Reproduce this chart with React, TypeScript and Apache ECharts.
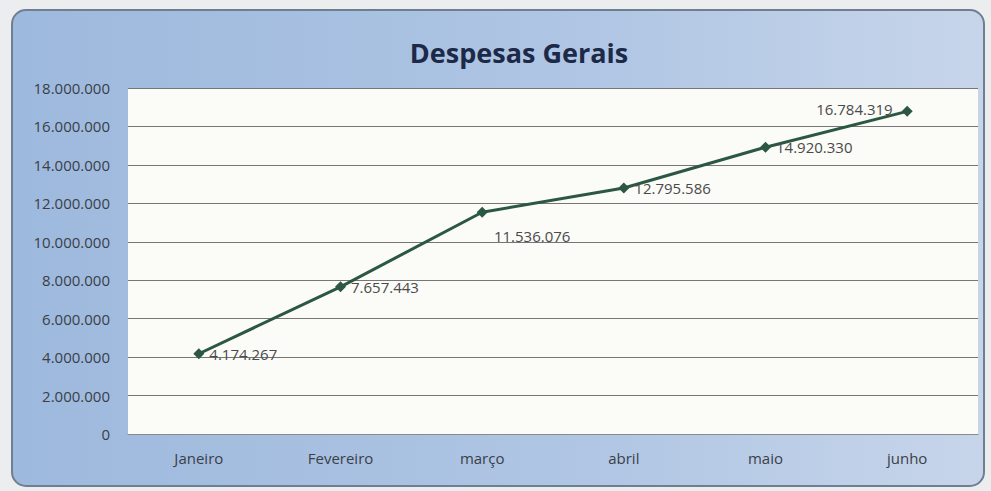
import React, { useEffect, useRef } from "react";
import * as echarts from "echarts";

const categories = ["Janeiro", "Fevereiro", "março", "abril", "maio", "junho"];
const values = [4174267, 7657443, 11536076, 12795586, 14920330, 16784319];
const yTicks = [0, 2000000, 4000000, 6000000, 8000000, 10000000, 12000000, 14000000, 16000000, 18000000];
const labelPositions = ["right", "right", "bottom", "right", "right", "left"];
const title = "Despesas Gerais";

const fmt = (v: number) => v.toString().replace(/\B(?=(\d{3})+(?!\d))/g, ".");

export default function App() {
  const ref = useRef<HTMLDivElement>(null);
  useEffect(() => {
    if (!ref.current) return;
    const chart = echarts.init(ref.current, undefined, { renderer: "svg" });
    const font = "'Open Sans', 'Noto Sans', sans-serif";
    chart.setOption({
      animation: false,
      backgroundColor: "#ecedef",
      textStyle: { fontFamily: font },
      graphic: [
        {
          type: "rect",
          shape: { x: 12, y: 10, width: 972, height: 476, r: 14 },
          style: {
            fill: new echarts.graphic.LinearGradient(0, 0, 1, 0, [
              { offset: 0, color: "#9db9dd" },
              { offset: 0.6, color: "#b0c6e4" },
              { offset: 1, color: "#c7d5ea" },
            ]),
            stroke: "#6f7e90",
            lineWidth: 2,
          },
          z: -10,
        },
      ],
      title: {
        text: title,
        left: 514,
        top: 34,
        textAlign: "center",
        textStyle: { fontFamily: font, fontSize: 27, fontWeight: "bold", color: "#1c2a48" },
      },
      grid: { left: 128, right: 13, top: 88, bottom: 57, backgroundColor: "#fbfbf8", show: true, borderWidth: 0 },
      xAxis: {
        type: "category",
        data: categories,
        boundaryGap: true,
        axisLine: { show: true, lineStyle: { color: "#8a8a8a" } },
        axisTick: { show: false },
        axisLabel: { color: "#3a3f48", fontSize: 15, margin: 16, fontFamily: font },
      },
      yAxis: {
        type: "value",
        min: yTicks[0],
        max: yTicks[yTicks.length - 1],
        interval: 2000000,
        axisLine: { show: false },
        axisTick: { show: false },
        axisLabel: { color: "#3a3f48", fontSize: 15, margin: 18, formatter: (v: number) => fmt(v), fontFamily: font },
        splitLine: { show: true, lineStyle: { color: "#767676", width: 1 } },
      },
      series: [
        {
          type: "line",
          data: values.map((v, i) => ({
            value: v,
            label: {
              position: labelPositions[i],
              offset: labelPositions[i] === "bottom" ? [50, 6] : labelPositions[i] === "left" ? [-4, -2] : [0, 0],
            },
          })),
          symbol: "diamond",
          symbolSize: 11,
          lineStyle: { color: "#2b5743", width: 3 },
          itemStyle: { color: "#2b5743" },
          label: {
            show: true,
            color: "#4a4a4a",
            fontSize: 15,
            fontFamily: font,
            formatter: (p: any) => fmt(p.value),
          },
        },
      ],
    });
    return () => chart.dispose();
  }, []);
  return <div ref={ref} style={{ position: "absolute", left: 0, top: 0, width: 991, height: 491 }} />;
}
